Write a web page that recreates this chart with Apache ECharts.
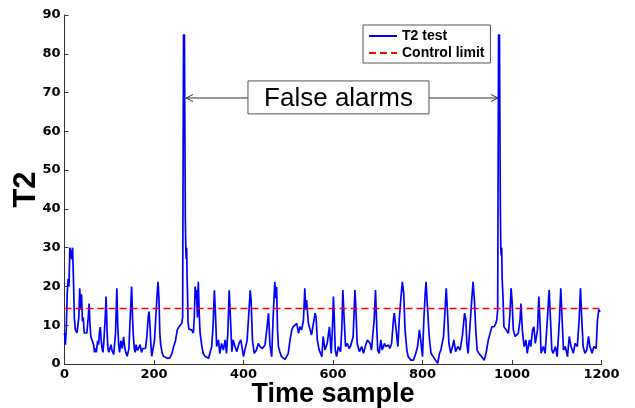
<!DOCTYPE html>
<html><head><meta charset="utf-8">
<script src="https://cdn.jsdelivr.net/npm/echarts@6/dist/echarts.min.js"></script>
<style>html,body{margin:0;padding:0;background:#fff}#c{width:635px;height:408px}</style>
</head><body><div id="c"></div>
<script>
// ---- data ----
const sampleIdx = [
0,2,4,6,8,10,12,14,16,18,20,22,24,26,28,30,32,34,36,38,40,42,44,47,50,53,55,57,59,62,65,67,69,71,74,76,78,80,82,84,86,88,91,93,95,97,99,101,104,106,110,114,117,119,121,123,126,129,132,135,137,140,144,146,150,152,154,156,158,160,163,166,169,172,175,178,181,184,187,189,191,193,195,198,201,204,207,209,211,213,215,218,221,
225,230,235,240,244,248,252,256,260,262,264,265,266,267,268,269,270,271,272,273,274,275,276,278,280,284,288,290,292,294,295,297,299,301,303,307,310,314,318,322,325,329,332,335,338,340,344,347,351,355,359,362,365,368,371,374,377,381,385,390,394,400,403,408,411,415,417,420,424,429,433,437,442,448,452,456,459,463,
466,470,472,474,476,478,481,485,489,493,496,500,504,508,511,515,519,523,526,530,534,537,539,541,545,549,552,556,560,562,565,569,575,578,582,587,592,596,599,601,603,605,608,612,617,620,622,625,628,632,636,640,645,649,651,654,659,664,668,673,677,683,686,692,695,698,700,703,707,710,715,718,724,727,731,735,737,741,745,748,752,755,758,761,765,768,774,780,785,789,793,796,800,803,806,808,811,815,819,824,829,834,838,841,847,850,853,856,859,863,867,870,874,879,884,889,894,897,899,902,906,910,913,916,919,922,926,932,938,
942,947,951,955,960,964,966,968,969,970,971,972,973,974,975,976,977,978,980,982,987,992,995,998,1000,1003,1007,1010,1014,1018,1020,1023,1027,1031,1034,1039,1042,1046,1049,1052,1057,1060,1063,1065,1070,1074,1079,1083,1086,1089,1092,1097,1101,1106,1109,1112,1115,1119,1124,1128,1132,1137,1141,1146,1150,1153,1156,1159,1163,1167,1171,1174,1179,1183,1188,1191,1194,1197
];
const t2Values = [
8,5,9,18,22,20,30,29,27,30,22,12,9,9.5,8,8.5,12,19.5,14,18,11,12,8,7.5,8,12,15.6,10,7,6,5,3,4,3,6,5,8,9.5,6,4,3,6,12,17.4,9,4,3,2.5,5,3.5,2.5,8,19.5,10,5,3,6,4,7,4,3,2,4,10,20,12,7,4,3,5,3.5,4,5,3,4,4.5,4,7,12,13.5,10,5,2,4,6,12,18,21.2,17,8,5,3,2,
2,1.5,1.5,2.7,4.5,6,8.8,9.6,10,10.5,12,50,85,80,85,60,38,30,27,30,22,18,11,9,8.5,8.8,8,12,20,17,19,12,21.2,13,8,4.5,2.7,2,1.5,1.5,1.9,4.5,10,19,11,4.5,6.2,2.7,5.3,3.6,6.2,2.7,8,19,11.4,3.2,6.2,4.5,3.2,5.3,6.2,1.9,3.6,6,11.4,19,16.5,6.2,2.75,3.6,5.3,4.5,4,4.9,8.8,13.1,5,1.9,
11.4,21.2,17,19.9,9,4.5,3.2,1.9,1.5,1.2,1,2.75,6.2,8.8,9.6,9.6,10.5,7.9,9.6,8.8,11.4,19.5,14,16.5,10.5,8.8,7.5,7.9,13.1,12.2,6.2,3.6,1.9,7.1,3.6,5.3,9.6,2.75,10,17.4,11.4,3.6,1.9,4.5,3.2,10,19.1,11.4,4.5,5.3,4,4.9,7.1,19.1,14.8,5.3,3.2,4.5,2.75,4.9,6.2,5.3,3.6,11.4,19.1,8.8,3.6,2.75,6.2,3.6,5.3,4.5,4.9,4,5.3,11.4,13.1,8.8,4.5,11.4,17.4,21.2,18.2,8.8,3.6,1.9,1,1,2.75,4.5,8.8,6.2,1.9,11.4,18.2,21.2,14.8,7.1,2.75,1.9,1,0.2,2.75,3.6,7.1,13.1,19.5,13.1,5.3,2.75,4.5,6.2,3.2,4.5,3.6,7.1,13.1,11.4,5.3,2.75,9.6,16.5,21.2,16.5,8.8,3.6,2.75,1.9,1,
2.75,6.2,7.9,9.6,9.6,10.5,11.4,14,50,85,80,85,62,40,30,28,30,22,17,9.6,8.8,7.9,12.2,19.5,16.5,8.8,7.1,6.6,7.9,11.4,15.6,8.8,4.5,6.2,2.75,6.2,4.5,8.8,9.6,5.3,8.8,17.4,9.6,2.75,4.5,2.75,11.4,19.1,11.4,3.6,2.75,4.5,1.9,11.4,19.5,11.4,3.6,4.5,1.9,7.1,4.5,2.75,5.3,4.5,11.4,19.5,11.4,4.5,2.75,3.6,7.1,4.5,2.75,4.5,4,11.4,14,13.5
];
const controlLimit = 14.3;
const limitSpan = [0, 1197];
const seriesNames = ['T2 test', 'Control limit'];
const xAxisTitle = 'Time sample';
const yAxisTitle = 'T2';
const annotationText = 'False alarms';
// annotation anchors in data units: box corners, arrow level, arrow tips at the two spikes
const boxCorners = [[410, 73], [814.5, 64.5]];
const arrowLevel = 68.6;
const arrowTips = [271.5, 968.7];

const t2Data = sampleIdx.map((s, i) => [s, t2Values[i]]);
const limitData = limitSpan.map(s => [s, controlLimit]);

const chart = echarts.init(document.getElementById('c'), null, {renderer: 'canvas'});
const axisCol = '#333';
const tickFont = {color: '#000', fontFamily: 'DejaVu Sans', fontWeight: 'bold', fontSize: 13, formatter: v => String(v)};
chart.setOption({
  animation: false,
  backgroundColor: '#fff',
  grid: {left: 64.5, right: 33.5, top: 15, bottom: 44, containLabel: false, outerBoundsMode: 'none'},
  legend: {
    data: seriesNames, orient: 'vertical', left: 363, top: 25,
    padding: [4, 6, 3, 5], itemGap: 3, itemWidth: 28, itemHeight: 14,
    itemStyle: {opacity: 0},
    textStyle: {fontFamily: 'Liberation Sans', fontWeight: 'bold', fontSize: 14, color: '#000'},
    borderColor: '#555', borderWidth: 1, backgroundColor: '#fff', borderRadius: 0,
    selectedMode: false
  },
  xAxis: {
    type: 'value', min: 0, max: 1200, interval: 200,
    axisLine: {lineStyle: {color: axisCol, width: 1}},
    axisTick: {inside: true, length: 4, lineStyle: {color: axisCol}},
    axisLabel: Object.assign({margin: 4}, tickFont),
    splitLine: {show: false},
    name: xAxisTitle, nameLocation: 'middle', nameGap: 17, nameMoveOverlap: false,
    nameTextStyle: {fontFamily: 'Liberation Sans', fontWeight: 'bold', fontSize: 27, color: '#000',
                    verticalAlign: 'top', lineHeight: 27}
  },
  yAxis: {
    type: 'value', min: 0, max: 90, interval: 10,
    axisLine: {show: true, lineStyle: {color: axisCol, width: 1}},
    axisTick: {show: true, inside: true, length: 4, lineStyle: {color: axisCol}},
    axisLabel: Object.assign({margin: 4}, tickFont),
    splitLine: {show: false},
    name: yAxisTitle, nameLocation: 'middle', nameGap: 23, nameRotate: 90, nameMoveOverlap: false,
    nameTextStyle: {fontFamily: 'Liberation Sans', fontWeight: 'bold', fontSize: 31, color: '#000',
                    verticalAlign: 'bottom', lineHeight: 31}
  },
  series: [
    {name: seriesNames[0], type: 'line', data: t2Data, symbol: 'none', showSymbol: false,
     lineStyle: {color: '#0000ff', width: 1.7}, itemStyle: {color: '#0000ff'}, z: 2},
    {name: seriesNames[1], type: 'line', data: limitData, symbol: 'none', showSymbol: false,
     lineStyle: {color: '#ff0000', width: 1.5, type: [7, 4]}, itemStyle: {color: '#ff0000'}, z: 3}
  ]
});

// annotation box and arrows, positioned through the grid's own scales
const p = v => chart.convertToPixel({gridIndex: 0}, v);
const b0 = p(boxCorners[0]), b1 = p(boxCorners[1]);
const ya = p([0, arrowLevel])[1];
const tL = p([arrowTips[0], arrowLevel])[0], tR = p([arrowTips[1], arrowLevel])[0];
const arrowStyle = {stroke: '#333', lineWidth: 1, fill: null};
chart.setOption({
  graphic: [
    {type: 'line', shape: {x1: b0[0], y1: ya, x2: tL, y2: ya}, style: arrowStyle, z: 10},
    {type: 'polyline', shape: {points: [[tL + 7, ya - 3.5], [tL, ya], [tL + 7, ya + 3.5]]}, style: arrowStyle, z: 10},
    {type: 'line', shape: {x1: b1[0], y1: ya, x2: tR, y2: ya}, style: arrowStyle, z: 10},
    {type: 'polyline', shape: {points: [[tR - 7, ya - 3.5], [tR, ya], [tR - 7, ya + 3.5]]}, style: arrowStyle, z: 10},
    {type: 'rect', shape: {x: b0[0], y: b0[1], width: b1[0] - b0[0], height: b1[1] - b0[1]},
     style: {fill: '#fff', stroke: '#555', lineWidth: 1}, z: 10},
    {type: 'text', x: (b0[0] + b1[0]) / 2, y: (b0[1] + b1[1]) / 2 + 1,
     style: {text: annotationText, fill: '#000', font: '26px "Liberation Sans", Arial, sans-serif',
             align: 'center', verticalAlign: 'middle'}, z: 11}
  ]
});
</script>
</body></html>
